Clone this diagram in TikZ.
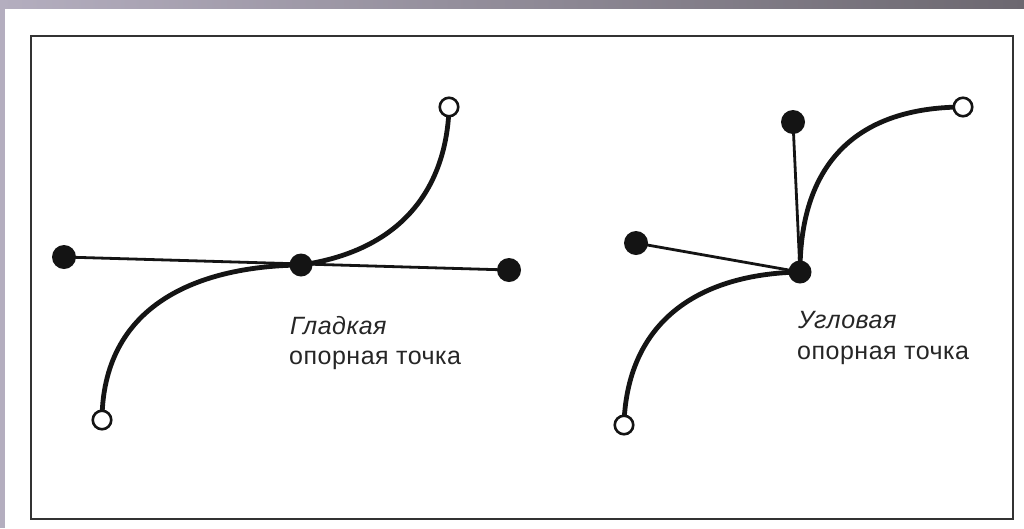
\documentclass[tikz,border=0pt]{standalone}
\usepackage{fontspec}
\setmainfont{Liberation Sans}
\definecolor{barA}{RGB}{180,174,191}
\definecolor{barB}{RGB}{108,104,112}
\begin{document}
\begin{tikzpicture}[x={(1pt,0)},y={(0,-1pt)},
  curve/.style={line width=4.8pt,black!92},
  handle/.style={line width=2.8pt,black!92},
  filled/.style={circle,fill=black!92,inner sep=0pt,minimum size=24pt},
  anch/.style={circle,fill=black!92,inner sep=0pt,minimum size=23pt},
  open/.style={circle,draw=black!92,line width=2.6pt,fill=white,inner sep=0pt,minimum size=18.5pt},
  lbl/.style={anchor=base west,inner sep=0pt,text=black!85,font=\fontsize{25}{29}\selectfont\addfontfeature{LetterSpace=2}}]
\useasboundingbox (0,0) rectangle (1024,528);
\fill[white] (0,0) rectangle (1024,528);
\shade[left color=barA,right color=barB] (0,0) rectangle (1024,8);
\fill[barA] (0,0) rectangle (5,528);
\draw[line width=2.4pt,black!80] (31,36) rectangle (1013,519);
% left: smooth point
\coordinate (A) at (301,265);
\draw[handle] (64,257) -- (509,270);
\draw[curve] (102,418) .. controls (104,300) and (205,266) .. (A);
\draw[curve] (A) .. controls (405,250) and (446,185) .. (449,109);
\node[filled] (h1) at (64,257) {};
\node[filled] (h2) at (509,270) {};
\node[anch] (a1) at (A) {};
\node[open] (o1) at (449,107) {};
\node[open] (o2) at (102,420) {};
\node[lbl] (t1) at (290,334) {\itshape Гладкая};
\node[lbl] (t2) at (289,364) {опорная точка};
% right: corner point
\coordinate (B) at (800,272);
\draw[handle] (636,243) -- (B);
\draw[handle] (793,122) -- (B);
\draw[curve] (624,423) .. controls (628,320) and (700,274) .. (B);
\draw[curve] (B) .. controls (800,160) and (860,108) .. (961,107);
\node[filled] (h3) at (636,243) {};
\node[filled] (h4) at (793,122) {};
\node[anch] (a2) at (B) {};
\node[open] (o3) at (963,107) {};
\node[open] (o4) at (624,425) {};
\node[lbl] (t3) at (798,328) {\itshape Угловая};
\node[lbl] (t4) at (797,359) {опорная точка};
\end{tikzpicture}
\end{document}
